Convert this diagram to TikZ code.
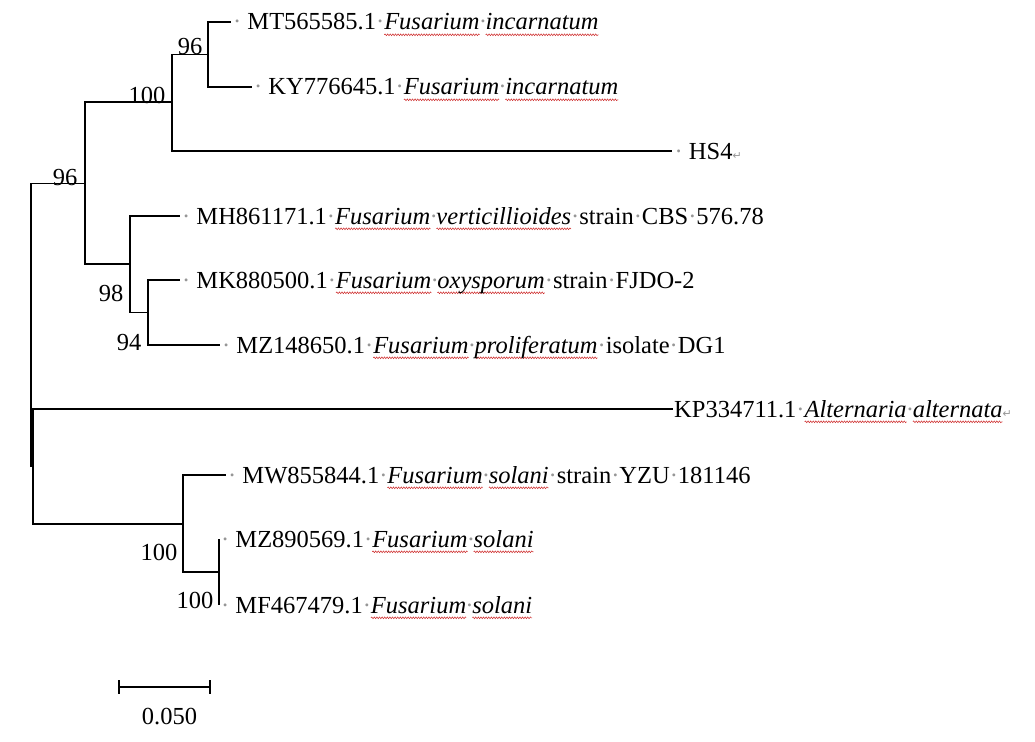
\documentclass[tikz,border=0pt]{standalone}
\usepackage{fontspec}
\setmainfont{Liberation Serif}
\newfontfamily\symfont{DejaVu Sans}
\usetikzlibrary{decorations.pathmorphing}
\definecolor{wavered}{RGB}{205,40,40}
\definecolor{markgray}{RGB}{150,150,150}
\newsavebox\wvbox
\newcommand\wv[1]{\sbox\wvbox{#1}\rlap{\tikz[overlay, x=1pt, y=1pt, baseline=0pt]
  \draw[wavered, line width=0.5pt, decorate, decoration={snake, amplitude=0.9pt, segment length=2.6pt}]
  (0pt,-4.8pt) -- (\the\wd\wvbox,-4.8pt);}\usebox\wvbox}
\newcommand\gd{{\color{markgray}·}}
\newcommand\ret{{\color{markgray}\symfont\fontsize{11}{11}\selectfont ↵}}
\newcommand\lbl{\fontsize{24.5}{29}\selectfont}

\begin{document}
\begin{tikzpicture}[x=1pt, y=-1pt, line width=1.3pt,
  leaf/.style={anchor=base west, inner sep=0pt, xshift=2pt, yshift=-8pt, font=\lbl},
  boot/.style={anchor=base east, inner sep=0pt, font=\lbl}]
\useasboundingbox (0,0) rectangle (1035,741);

% inner nodes
\coordinate (root) at (31,324.5);
\coordinate (c96a) at (85,183.5);
\coordinate (c100a) at (172,102);
\coordinate (c96b) at (208,54.5);
\coordinate (c98) at (130,264);
\coordinate (c94) at (148,312.5);
\coordinate (cout) at (33,466.5);
\coordinate (csol) at (183,524);
\coordinate (c100c) at (219,572);

% branch ends
\coordinate (lMT) at (231,22);
\coordinate (lKY) at (252,87);
\coordinate (lHS) at (672,151);
\coordinate (lMH) at (180,216);
\coordinate (lMK) at (180,280);
\coordinate (lMZa) at (220,345);
\coordinate (lKP) at (673,409);
\coordinate (lMW) at (226,475);
\coordinate (lMZb) at (219,539);
\coordinate (lMF) at (219,605);

\node[leaf] (tMT) at (lMT) {\gd\ MT565585.1\gd\textit{\wv{Fusarium}\gd\wv{incarnatum}}};
\node[leaf] (tKY) at (lKY) {\gd\ KY776645.1\gd\textit{\wv{Fusarium}\gd\wv{incarnatum}}};
\node[leaf] (tHS) at (lHS) {\gd\ HS4\ret};
\node[leaf] (tMH) at (lMH) {\gd\ MH861171.1\gd\textit{\wv{Fusarium}\gd\wv{verticillioides}}\gd strain\gd CBS\gd 576.78};
\node[leaf] (tMK) at (lMK) {\gd\ MK880500.1\gd\textit{\wv{Fusarium}\gd\wv{oxysporum}}\gd strain\gd FJDO-2};
\node[leaf] (tMZa) at (lMZa) {\gd\ MZ148650.1\gd\textit{\wv{Fusarium}\gd\wv{proliferatum}}\gd isolate\gd DG1};
\node[leaf, xshift=-1pt] (tKP) at (lKP) {KP334711.1\gd\textit{\wv{Alternaria}\gd\wv{alternata}}\ret};
\node[leaf] (tMW) at (lMW) {\gd\ MW855844.1\gd\textit{\wv{Fusarium}\gd\wv{solani}}\gd strain\gd YZU\gd 181146};
\node[leaf] (tMZb) at (lMZb) {\gd\ MZ890569.1\gd\textit{\wv{Fusarium}\gd\wv{solani}}};
\node[leaf] (tMF) at (lMF) {\gd\ MF467479.1\gd\textit{\wv{Fusarium}\gd\wv{solani}}};

\draw (root) |- (c96a);
\draw (root) |- (cout);
\draw (c96a) |- (c100a);
\draw (c96a) |- (c98);
\draw (c100a) |- (c96b);
\draw (c100a) |- (lHS);
\draw (c96b) |- (lMT);
\draw (c96b) |- (lKY);
\draw (c98) |- (lMH);
\draw (c98) |- (c94);
\draw (c94) |- (lMK);
\draw (c94) |- (lMZa);
\draw (cout) |- (lKP);
\draw (cout) |- (csol);
\draw (csol) |- (lMW);
\draw (csol) |- (c100c);
\draw (c100c) |- (lMZb);
\draw (c100c) |- (lMF);

% bootstrap values
\node[boot] (b96a) at (78,185) {96};
\node[boot] (b100a) at (166,103) {100};
\node[boot] (b96b) at (203,55) {96};
\node[boot] (b98) at (124,301) {98};
\node[boot] (b94) at (142,350) {94};
\node[boot] (b100b) at (178,560) {100};
\node[boot] (b100c) at (214,608) {100};

% scale bar
\coordinate (s1) at (119,687);
\coordinate (s2) at (210,687);
\draw[line width=1.2pt] (s1) -- (s2);
\draw[line width=1.2pt] ([yshift=7pt]s1) -- ([yshift=-7pt]s1);
\draw[line width=1.2pt] ([yshift=7pt]s2) -- ([yshift=-7pt]s2);
\node[anchor=base, inner sep=0pt, font=\lbl] (sbl) at (169.5,724) {0.050};

\end{tikzpicture}
\end{document}
